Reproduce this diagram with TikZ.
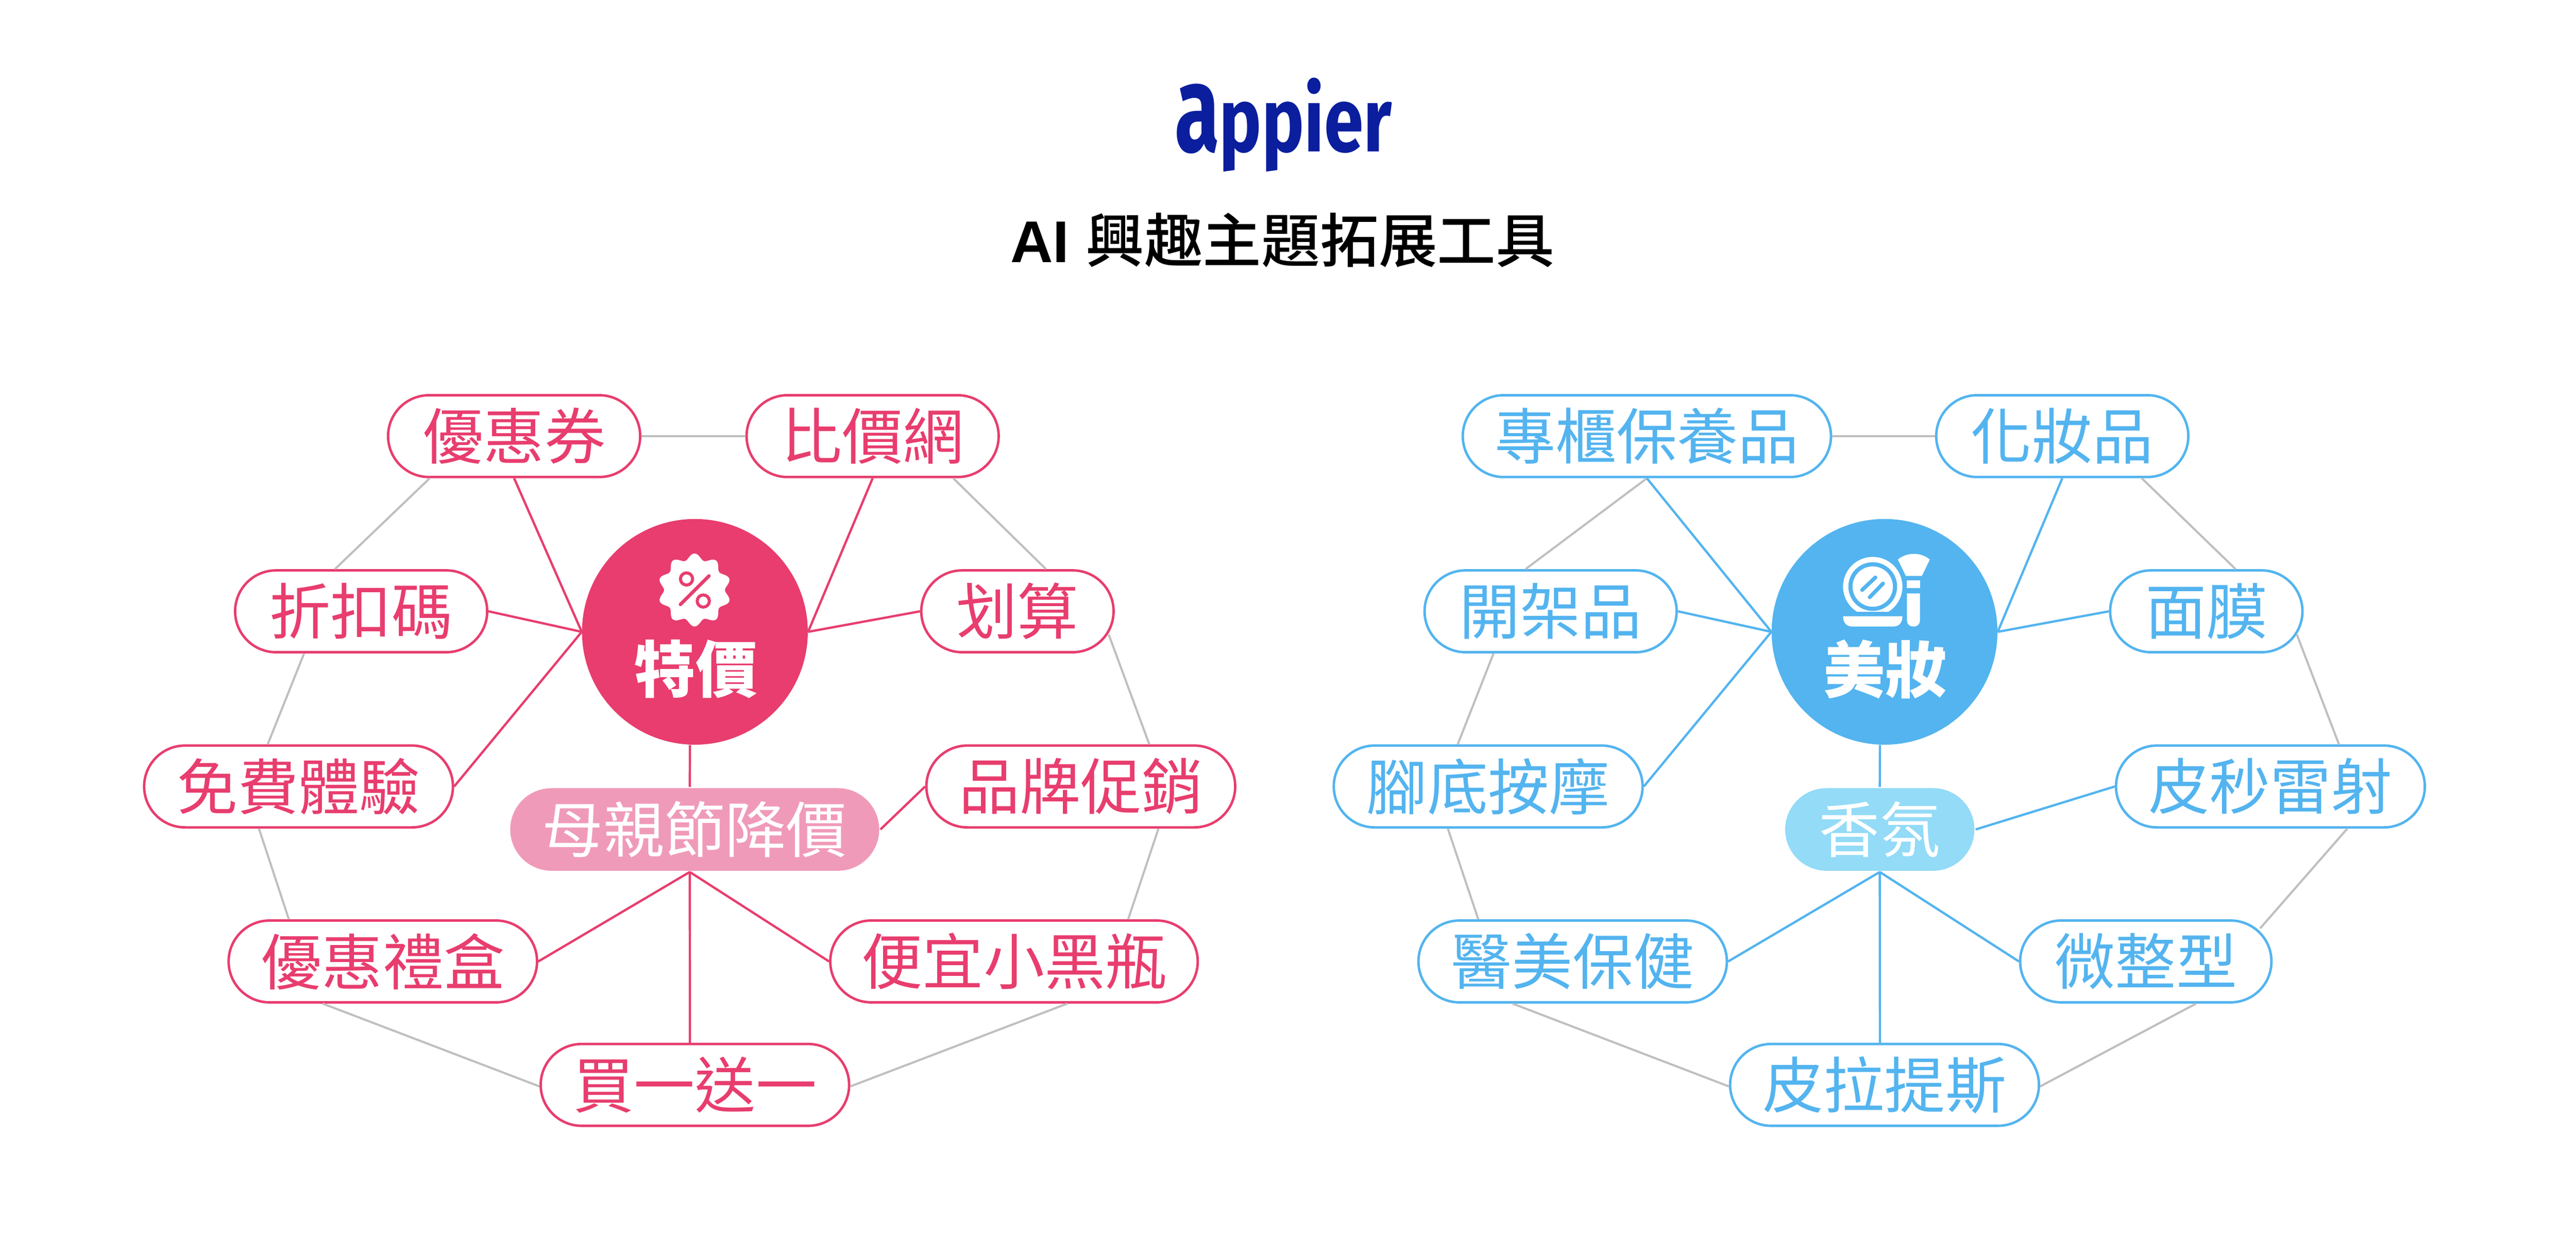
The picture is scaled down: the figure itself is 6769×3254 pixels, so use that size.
\documentclass[tikz,border=0pt]{standalone}
\usepackage{fontspec}
\usepackage{xcolor}
\usepackage{tikz}
\usetikzlibrary{shapes.misc,calc}
\setmainfont{Liberation Sans}
\newfontfamily\cjk{Noto Sans CJK TC}
\newfontfamily\cjkmed{Noto Sans CJK TC Medium}
\newfontfamily\logofont{Fira Sans}
\definecolor{salepink}{HTML}{E83D6E}
\definecolor{salelight}{HTML}{F09AB9}
\definecolor{beautyblue}{HTML}{53B4EF}
\definecolor{beautylight}{HTML}{93DBF7}
\definecolor{linkgrey}{HTML}{BFBFBF}
\definecolor{logonavy}{HTML}{0A1E9E}
\tikzset{
  pill/.style={rounded rectangle,minimum height=2.15cm,inner sep=0pt,line width=0.065cm,
    font=\cjk\fontsize{45.5pt}{50pt}\selectfont},
  pinkpill/.style={pill,draw=salepink,text=salepink},
  bluepill/.style={pill,draw=beautyblue,text=beautyblue},
  pinksub/.style={pill,fill=salelight,text=white,minimum height=2.17cm},
  bluesub/.style={pill,fill=beautylight,text=white,minimum height=2.17cm},
  hub/.style={circle,minimum size=5.93cm,inner sep=0pt},
  hubtext/.style={inner sep=0pt,text=white,font=\cjk\bfseries\fontsize{46pt}{50pt}\selectfont},
  greyline/.style={linkgrey,line width=0.055cm},
  pinkline/.style={salepink,line width=0.06cm},
  blueline/.style={beautyblue,line width=0.06cm},
}
\begin{document}
\begin{tikzpicture}[x=0.01cm,y=-0.01cm]
    \useasboundingbox (0,0) rectangle (6769,3254);
    % Logo and title
    \node[anchor=base west,inner sep=0pt,text=logonavy] (logo) at (3086,399)
      {\logofont\bfseries\fontsize{68pt}{70pt}\selectfont\scalebox{0.78}[1]{\scalebox{1.15}[1.36]{a}ppier}};
    \node[anchor=base,inner sep=0pt] (title) at (3370,690)
      {\fontsize{44pt}{50pt}\selectfont\bfseries AI {\cjkmed\mdseries\fontsize{43.8pt}{50pt}\selectfont 興趣主題拓展工具}};
    % Left hub
    \node[hub,fill=salepink] (sale) at (1826,1661) {};
    \node[hubtext] (saletext) at (1828,1759) {特價};
    \fill[white] plot[domain=0:360,samples=181] ({1825+(88+8*cos(10*(\x-90)))*cos(\x)},{1551+(88+8*cos(10*(\x-90)))*sin(\x)}) -- cycle;
    \draw[salepink,line width=0.08cm] (1804,1522) circle (16);
    \draw[salepink,line width=0.08cm] (1848,1580) circle (16);
    \draw[salepink,line width=0.09cm,line cap=round] (1788,1589) -- (1863,1514);
    % Left ring
    \node[pinkpill,minimum width=6.62cm] (coupon) at (1351,1146.5) {優惠券};
    \node[pinkpill,minimum width=6.62cm] (compare) at (2293,1146.5) {比價網};
    \node[pinkpill,minimum width=6.62cm] (promo) at (949,1607) {折扣碼};
    \node[pinkpill,minimum width=5.05cm] (bargain) at (2673.5,1607) {划算};
    \node[pinkpill,minimum width=8.11cm] (trial) at (784.5,2067.5) {免費體驗};
    \node[pinkpill,minimum width=8.11cm] (brand) at (2840,2067.5) {品牌促銷};
    \node[pinksub,minimum width=9.69cm] (mothers) at (1825.5,2180.5) {母親節降價};
    \node[pinkpill,minimum width=8.1cm] (giftbox) at (1006,2527.5) {優惠禮盒};
    \node[pinkpill,minimum width=9.65cm] (blackbottle) at (2664.5,2527.5) {便宜小黑瓶};
    \node[pinkpill,minimum width=8.1cm] (bogo) at (1826,2852) {買一送一};
    % Left links
    \draw[greyline] (coupon) -- (compare);
    \draw[greyline] ($(coupon.south)+(-222,0)$) -- ($(promo.north)+(-69,0)$);
    \draw[greyline] ($(promo.south)+(-150,0)$) -- ($(trial.north)+(-81,0)$);
    \draw[greyline] ($(trial.south)+(-104,0)$) -- ($(giftbox.north)+(-247,0)$);
    \draw[greyline] ($(giftbox.south)+(-158,0)$) -- ($(bogo.west)+(0,4)$);
    \draw[greyline] ($(bogo.east)+(0,4)$) -- ($(blackbottle.south)+(140,0)$);
    \draw[greyline] ($(blackbottle.north)+(300,0)$) -- ($(brand.south)+(204,0)$);
    \draw[greyline] ($(brand.north)+(180,0)$) -- ($(bargain.east)+(-16,61)$);
    \draw[greyline] ($(bargain.north)+(75,0)$) -- ($(compare.south)+(212,0)$);
    \draw[pinkline] (coupon.south) -- (sale.west);
    \draw[pinkline] (promo.east) -- (sale.west);
    \draw[pinkline] (trial.east) -- (sale.west);
    \draw[pinkline] (compare.south) -- (sale.east);
    \draw[pinkline] (bargain.west) -- (sale.east);
    \draw[pinkline] ($(sale.south)+(-13,0)$) -- ($(mothers.north)+(-13,0)$);
    \draw[pinkline] (brand.west) -- (mothers.east);
    \draw[pinkline] ($(mothers.south)+(-13,0)$) -- (giftbox.east);
    \draw[pinkline] ($(mothers.south)+(-13,0)$) -- (blackbottle.west);
    \draw[pinkline] ($(mothers.south)+(-13,0)$) -- ($(bogo.north)+(-13,0)$);
    % Right hub
    \node[hub,fill=beautyblue] (beauty) at (4952,1661) {};
    \node[hubtext] (beautytext) at (4954,1759) {美妝};
    \begin{scope}
      \clip (4830,1450) rectangle (5010,1607);
      \fill[white] (4921,1542) circle (78);
      \fill[beautyblue] (4921,1542) circle (64);
      \fill[white] (4921,1542) circle (53);
    \end{scope}
    \draw[beautyblue,line width=0.1cm,line cap=round] (4893,1551) -- (4928,1518);
    \draw[beautyblue,line width=0.1cm,line cap=round] (4913,1570) -- (4948,1534);
    \fill[white] (4843,1620) -- (4999,1620) .. controls (4999,1637) and (4990,1647) .. (4975,1647) -- (4867,1647) .. controls (4852,1647) and (4843,1637) .. (4843,1620) -- cycle;
    \fill[white] (4987,1471) .. controls (5010,1451) and (5048,1451) .. (5071,1471) -- (5050,1514) -- (5008,1514) -- cycle;
    \fill[white] (5011,1526) rectangle (5045,1546);
    \fill[white] (5011,1560) -- (5045,1560) -- (5045,1630) .. controls (5045,1642) and (5038,1647) .. (5028,1647) .. controls (5018,1647) and (5011,1642) .. (5011,1630) -- cycle;
    % Right ring
    \node[bluepill,minimum width=9.67cm] (counter) at (4327.5,1146.5) {專櫃保養品};
    \node[bluepill,minimum width=6.62cm] (cosmetics) at (5419,1146.5) {化妝品};
    \node[bluepill,minimum width=6.62cm] (drugstore) at (4074.5,1607) {開架品};
    \node[bluepill,minimum width=5.05cm] (mask) at (5797.5,1607) {面膜};
    \node[bluepill,minimum width=8.11cm] (footspa) at (3910.5,2067.5) {腳底按摩};
    \node[bluepill,minimum width=8.11cm] (pico) at (5966,2067.5) {皮秒雷射};
    \node[bluesub,minimum width=4.97cm] (scent) at (4939.5,2180.5) {香氛};
    \node[bluepill,minimum width=8.1cm] (medspa) at (4132.5,2527.5) {醫美保健};
    \node[bluepill,minimum width=6.6cm] (micro) at (5638.5,2527.5) {微整型};
    \node[bluepill,minimum width=8.11cm] (pilates) at (4952,2852) {皮拉提斯};
    % Right links
    \draw[greyline] (counter) -- (cosmetics);
    \draw[greyline] (counter.south) -- ($(drugstore.north)+(-66,0)$);
    \draw[greyline] ($(drugstore.south)+(-150,0)$) -- ($(footspa.north)+(-80,0)$);
    \draw[greyline] ($(footspa.south)+(-106,0)$) -- ($(medspa.north)+(-248,0)$);
    \draw[greyline] ($(medspa.south)+(-158,0)$) -- ($(pilates.west)+(0,4)$);
    \draw[greyline] ($(pilates.east)+(0,4)$) -- ($(micro.south)+(132,0)$);
    \draw[greyline] ($(micro.east)+(-33,-87)$) -- ($(pico.south)+(202,0)$);
    \draw[greyline] ($(pico.north)+(180,0)$) -- ($(mask.east)+(-18,61)$);
    \draw[greyline] ($(mask.north)+(77,0)$) -- ($(cosmetics.south)+(209,0)$);
    \draw[blueline] (counter.south) -- (beauty.west);
    \draw[blueline] (drugstore.east) -- (beauty.west);
    \draw[blueline] (footspa.east) -- (beauty.west);
    \draw[blueline] (cosmetics.south) -- (beauty.east);
    \draw[blueline] (mask.west) -- (beauty.east);
    \draw[blueline] ($(beauty.south)+(-12,0)$) -- (scent.north);
    \draw[blueline] (pico.west) -- (scent.east);
    \draw[blueline] (scent.south) -- (medspa.east);
    \draw[blueline] (scent.south) -- (micro.west);
    \draw[blueline] (scent.south) -- ($(pilates.north)+(-12,0)$);
\end{tikzpicture}
\end{document}
